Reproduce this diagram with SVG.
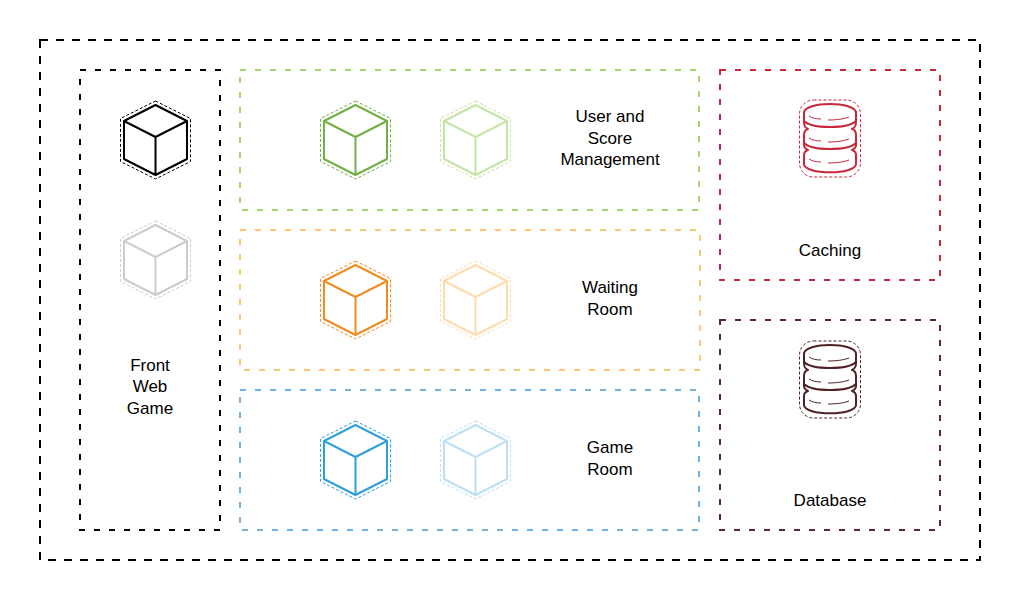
<svg xmlns="http://www.w3.org/2000/svg" xmlns:xlink="http://www.w3.org/1999/xlink" width="1020" height="600" viewBox="0 0 1020 600">
<style>
.box{fill:none;stroke-width:2;stroke-dasharray:6 9}
text{font-family:"Liberation Sans",Arial,sans-serif;font-size:17px;fill:#000;text-anchor:middle}
.l{fill:none;stroke-width:2;stroke-linejoin:round}
.d{fill:none;stroke-width:1;stroke-dasharray:3 2}
</style>
<defs>
<g id="cube">
<path class="l" d="M0 -35L31.500 -19V19L0 35L-31.500 19V-19ZM-31.500 -19L0 -3L31.500 -19M0 -3V35"/>
<path class="d" d="M0 -39L35 -21.500V21.500L0 39L-35 21.500V-21.500Z"/>
</g>
<g id="cyl">
<path class="l" d="M-26 -26C-26 -38 26 -38 26 -26V-17C26 -12 24 -11 22 -10C26 -9 26 -6 26 -4V6C26 8 24 10 22 11C25 12 26 14 26 16V25C26 36 -26 36 -26 25V16C-26 14 -25 12 -22 11C-24 10 -26 8 -26 6V-4C-26 -6 -26 -9 -22 -10C-24 -11 -26 -12 -26 -17V-26Z"/>
<path class="l" stroke-width="1.500" d="M-26 -18C-18 -10 18 -10 26 -18M-26 4C-18 12 18 12 26 4"/>
<path class="l" style="stroke-width:1" d="M-21 -23C-18 -21 -14 -20 -9 -20M-2 -19C6 -19 14 -20 19 -22M-21 -1C-18 1 -14 2 -9 2M-2 3C6 3 14 2 19 0M-21 20C-18 22 -14 23 -9 23M-2 24C6 24 14 23 19 21"/>
<rect class="d" x="-30.500" y="-39" width="61" height="77" rx="14"/>
</g>
</defs>
<g id="connectors"></g>
<g id="outer"><rect class="box" x="40" y="40" width="940" height="520" stroke="#000" style="stroke-dasharray:8 8"/></g>
<g id="front-web-game">
<rect class="box" x="80" y="70" width="140" height="460" stroke="#000"/>
<use href="#cube" x="155.500" y="140" stroke="#000"/>
<use href="#cube" x="155.500" y="260" stroke="#ccc"/>
<text x="150" y="371">Front</text><text x="150" y="392">Web</text><text x="150" y="414">Game</text>
</g>
<g id="user-score">
<rect class="box" x="240" y="70" width="459" height="140" stroke="#a6d56f"/>
<use href="#cube" x="355.500" y="140" stroke="#72b043"/>
<use href="#cube" x="475.500" y="140" stroke="#c5e5a5"/>
<text x="610" y="122">User and</text><text x="610" y="144">Score</text><text x="610" y="165">Management</text>
</g>
<g id="waiting-room">
<rect class="box" x="240" y="230" width="460" height="140" stroke="#ffc870"/>
<use href="#cube" x="355.500" y="300" stroke="#f08c1e"/>
<use href="#cube" x="475.500" y="300" stroke="#ffdcae"/>
<text x="610" y="293">Waiting</text><text x="610" y="315">Room</text>
</g>
<g id="game-room">
<rect class="box" x="240" y="390" width="459" height="140" stroke="#6fb1e0"/>
<use href="#cube" x="355.500" y="460" stroke="#2f9fdc"/>
<use href="#cube" x="475.500" y="460" stroke="#bde0f5"/>
<text x="610" y="453">Game</text><text x="610" y="475">Room</text>
</g>
<g id="caching">
<rect class="box" x="720" y="70" width="220" height="210" stroke="#c8283c"/>
<use href="#cyl" x="830" y="139" stroke="#c8283c"/>
<text x="830" y="256">Caching</text>
</g>
<g id="database">
<rect class="box" x="720" y="320" width="220" height="210" stroke="#5a2a2e"/>
<use href="#cyl" x="830" y="380" stroke="#4f2326"/>
<text x="830" y="506">Database</text>
</g>
</svg>
